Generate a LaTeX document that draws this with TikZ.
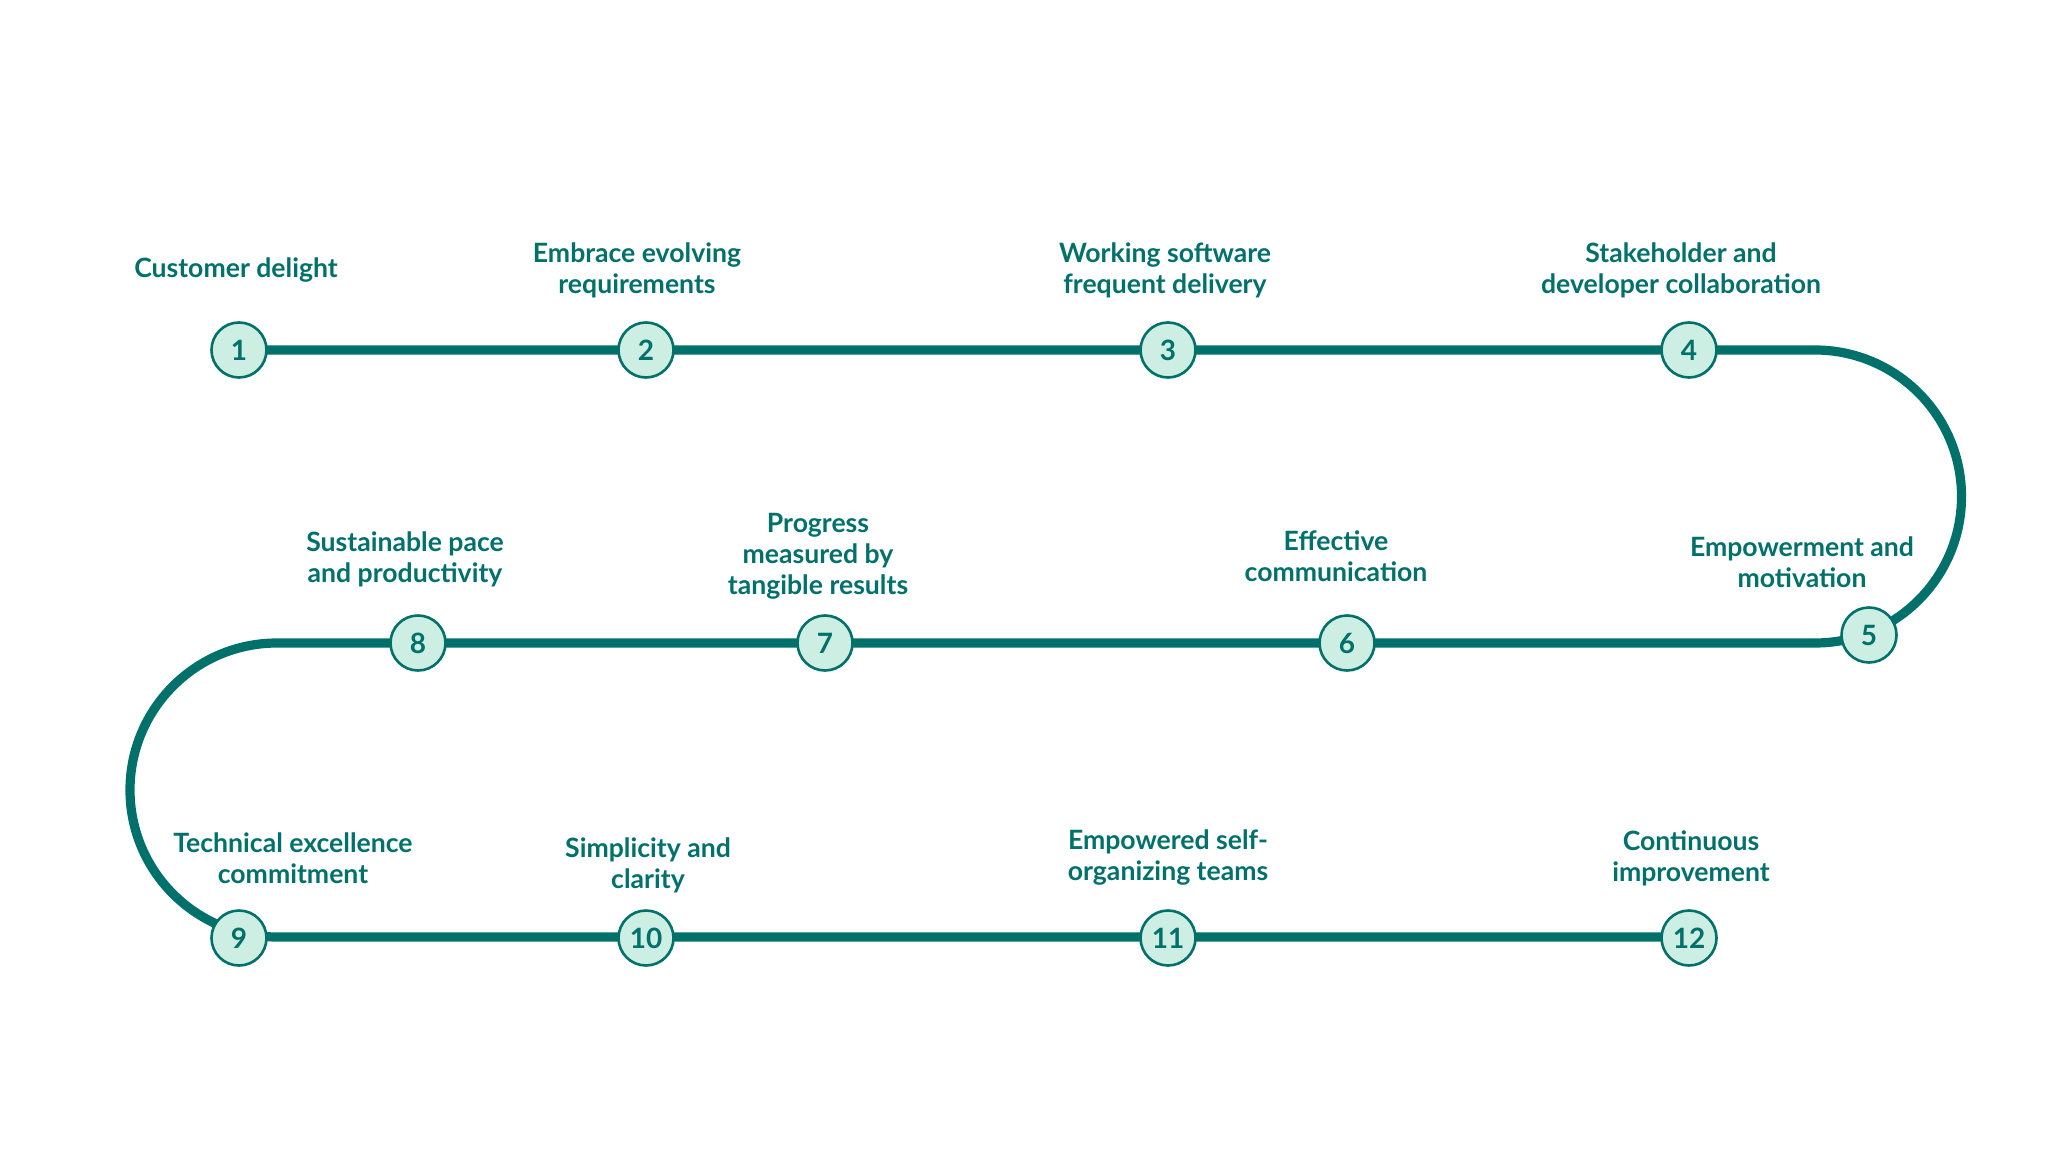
\documentclass[tikz,border=0pt]{standalone}
\usepackage{fontspec}
\setmainfont{Lato}
\definecolor{teal1}{HTML}{00706A}
\definecolor{mint}{HTML}{CDEEE3}
\begin{document}
\begin{tikzpicture}[x=0.5pt,y=-0.5pt,
  dot/.style={circle,draw=teal1,fill=mint,line width=1.3pt,minimum size=27.5pt,inner sep=0pt,font=\bfseries\fontsize{14}{14}\selectfont,text=teal1},
  lbl/.style={align=center,font=\bfseries\fontsize{13.3}{15.5}\selectfont,text=teal1},
  road/.style={draw=teal1,line width=4.6pt}]
\useasboundingbox (0,0) rectangle (2048,1165);
\coordinate (r1e) at (1815,350);
\coordinate (r2e) at (1815,643);
\coordinate (l2e) at (277,643);
\coordinate (l3e) at (277,937);
\draw[road] (239,350) -- (r1e) arc[start angle=-90,end angle=90,radius=146.5] -- (l2e) arc[start angle=270,end angle=90,radius=147] -- (1689,937);
\node[dot] (n1) at (239,350) {1};
\node[dot] (n2) at (646,350) {2};
\node[dot] (n3) at (1168,350) {3};
\node[dot] (n4) at (1689,350) {4};
\node[dot] (n5) at (1869,635) {5};
\node[dot] (n6) at (1347,643) {6};
\node[dot] (n7) at (825,643) {7};
\node[dot] (n8) at (418,643) {8};
\node[dot] (n9) at (239,938) {9};
\node[dot] (n10) at (646,938) {10};
\node[dot] (n11) at (1168,938) {11};
\node[dot] (n12) at (1689,938) {12};
\node[lbl] (t1) at (236,270) {Customer delight};
\node[lbl] (t2) at (637,270) {Embrace evolving\\requirements};
\node[lbl] (t3) at (1165,270) {Working software\\frequent delivery};
\node[lbl] (t4) at (1681,270) {Stakeholder and\\developer collaboration};
\node[lbl] (t5) at (1802,562) {Empowerment and\\motivation};
\node[lbl] (t6) at (1336,556) {Effective\\communication};
\node[lbl] (t7) at (818,556) {Progress\\measured by\\tangible results};
\node[lbl] (t8) at (405,559) {Sustainable pace\\and productivity};
\node[lbl] (t9) at (293,858) {Technical excellence\\commitment};
\node[lbl] (t10) at (648,865) {Simplicity and\\clarity};
\node[lbl] (t11) at (1168,858) {Empowered self-\\organizing teams};
\node[lbl] (t12) at (1691,858) {Continuous\\improvement};
\end{tikzpicture}
\end{document}
